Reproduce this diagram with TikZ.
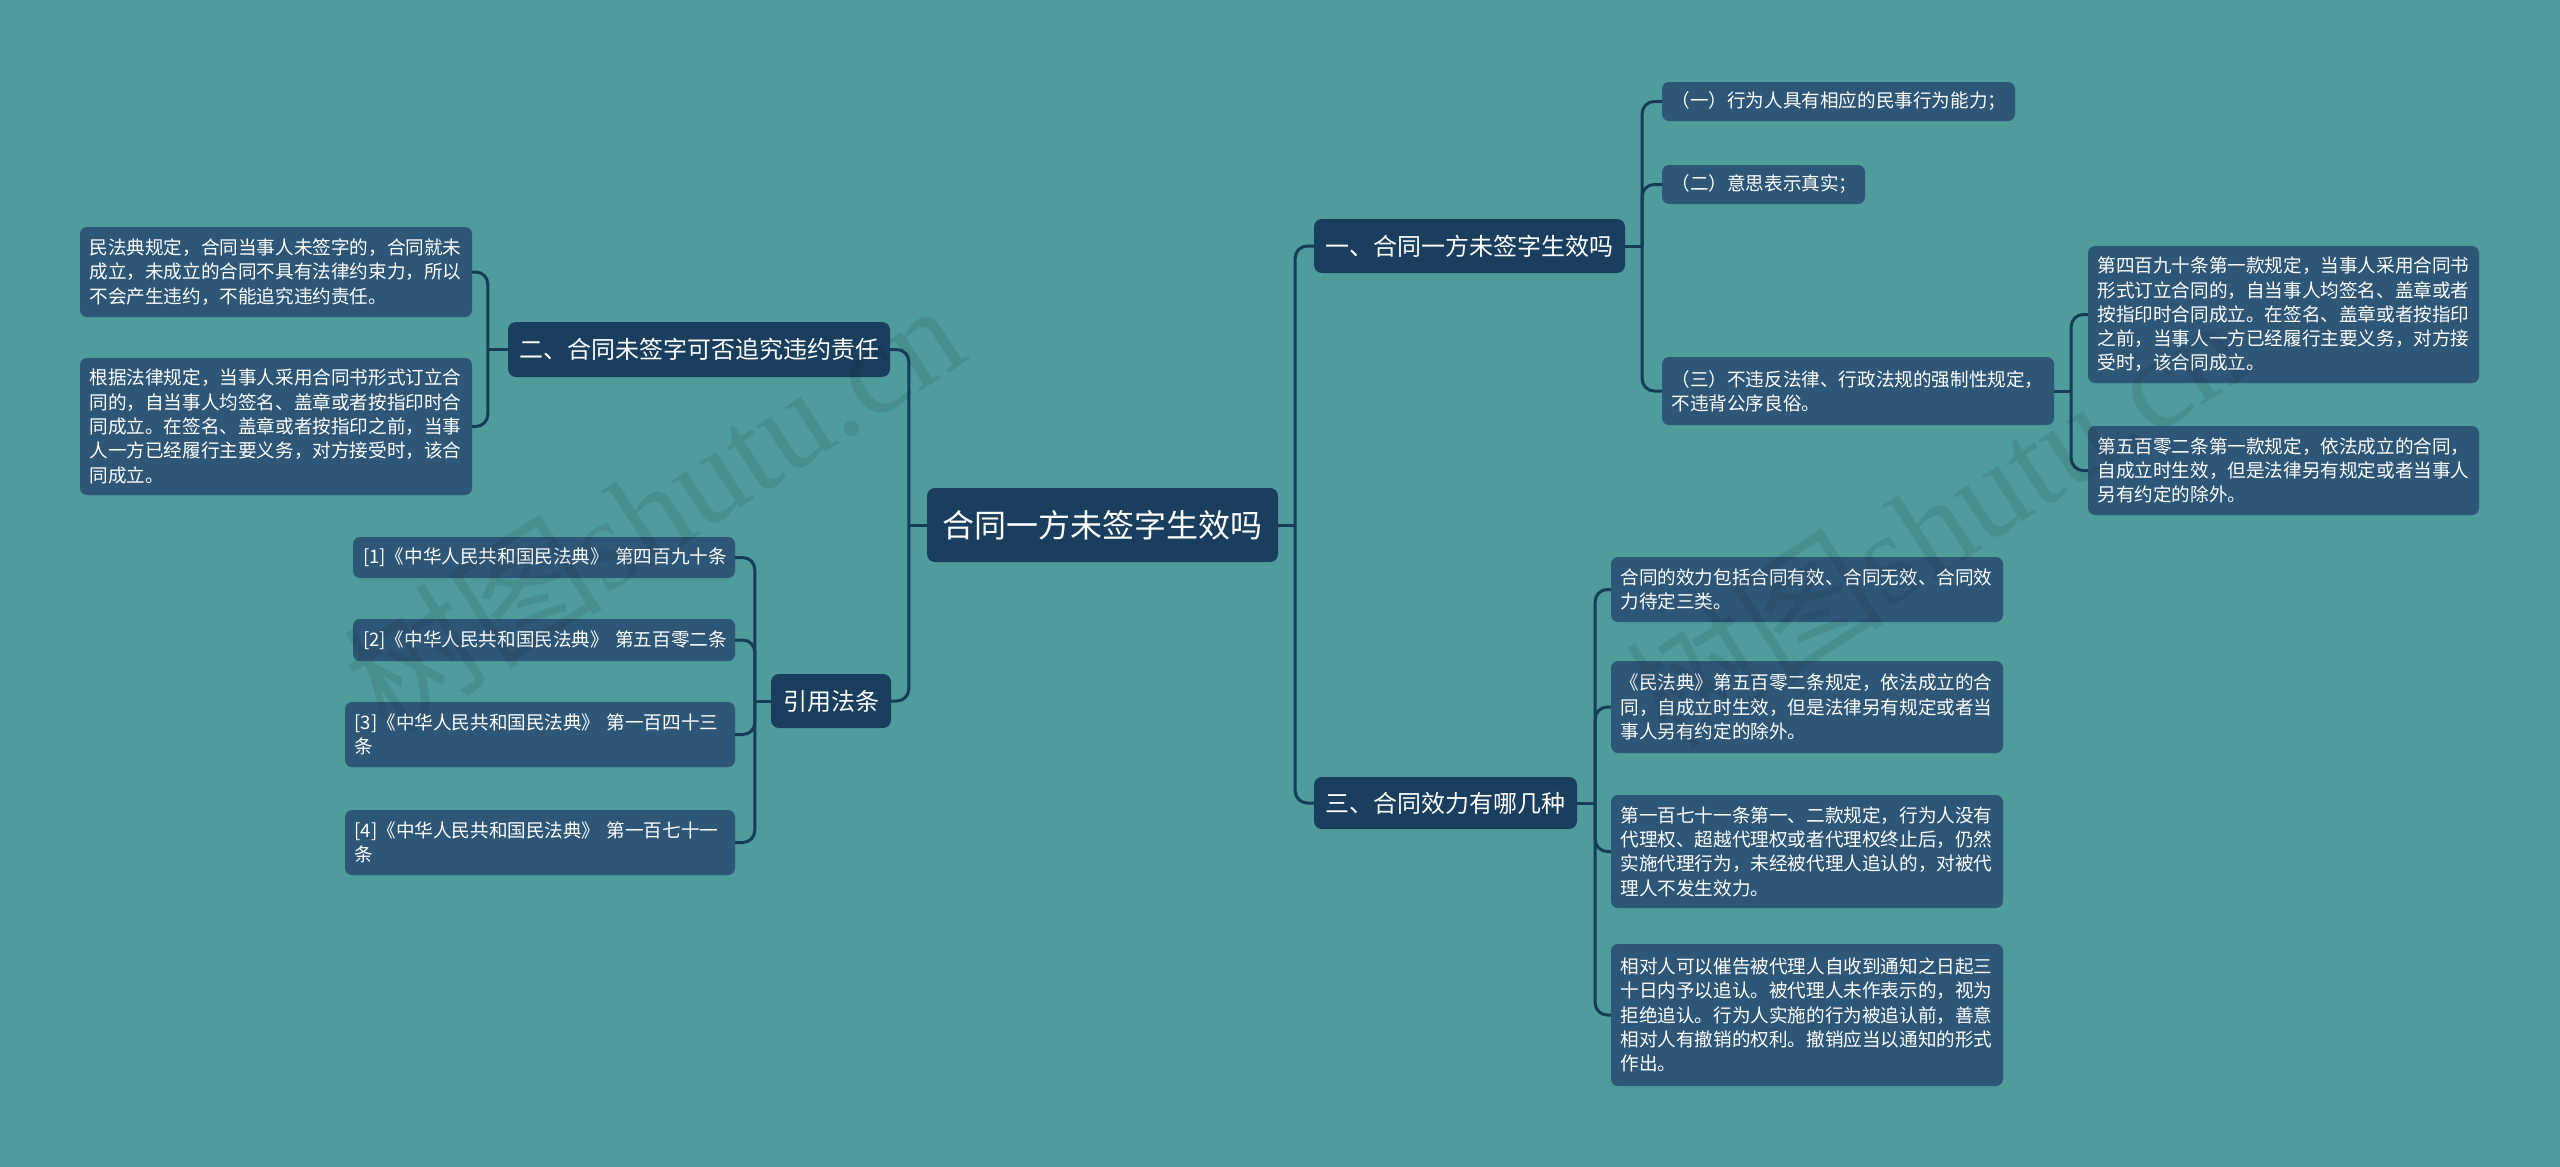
\documentclass[tikz,border=0pt]{standalone}
\usepackage{fontspec}
\setmainfont{Noto Sans CJK SC}
\newfontfamily\wmlatin{Liberation Serif}
\newfontfamily\wmcjk{Noto Sans CJK SC}
\definecolor{bgc}{HTML}{4E9C9C}
\definecolor{rootc}{HTML}{1A3F5E}
\definecolor{leafc}{HTML}{2E5777}
\definecolor{linec}{HTML}{183C58}
\tikzset{
  rootbox/.style={rounded corners=8pt, fill=rootc, text=white, inner sep=0pt, align=center, font=\fontsize{32}{38}\selectfont},
  mainbox/.style={rounded corners=8pt, fill=rootc, text=white, inner sep=0pt, align=center, font=\fontsize{24}{29}\selectfont},
  leafbox/.style={rounded corners=7pt, fill=leafc, text=white, inner xsep=9.5pt, inner ysep=0pt, align=left, font=\fontsize{18.6}{24.3}\selectfont},
  conn/.style={draw=linec, line width=3pt, rounded corners=12pt},
  wm/.style={text=black, text opacity=0.08, inner sep=0pt, font=\fontsize{130}{130}\selectfont},
}
\begin{document}
\begin{tikzpicture}[x=1pt,y=-1pt]
\useasboundingbox (0,0) rectangle (2560,1167);
\fill[bgc] (0,0) rectangle (2560,1167);

% root
\node[rootbox, minimum width=351pt, minimum height=74pt] (root) at (1102.5,525) {合同一方未签字生效吗};

% left main branches
\node[mainbox, minimum width=382pt, minimum height=55pt] (n2) at (699,349.5) {二、合同未签字可否追究违约责任};
\node[mainbox, minimum width=120pt, minimum height=54pt] (ny) at (831,701) {引用法条};

\node[leafbox, text width=373pt, minimum height=90pt] (ll1) at (276,272) {民法典规定，合同当事人未签字的，合同就未\\成立，未成立的合同不具有法律约束力，所以\\不会产生违约，不能追究违约责任。};
\node[leafbox, text width=373pt, minimum height=137pt] (ll2) at (276,426.5) {根据法律规定，当事人采用合同书形式订立合\\同的，自当事人均签名、盖章或者按指印时合\\同成立。在签名、盖章或者按指印之前，当事\\人一方已经履行主要义务，对方接受时，该合\\同成立。};

\node[leafbox, text width=362pt, inner xsep=10pt, minimum height=41pt] (c1) at (544,557.5) {\mbox{[1]《中华人民共和国民法典》~第四百九十条}};
\node[leafbox, text width=362pt, inner xsep=10pt, minimum height=42pt] (c2) at (544,640) {\mbox{[2]《中华人民共和国民法典》~第五百零二条}};
\node[leafbox, text width=371pt, minimum height=65pt] (c3) at (540,734.5) {[3]《中华人民共和国民法典》~第一百四十三\\条};
\node[leafbox, text width=371pt, minimum height=65pt] (c4) at (540,842.5) {[4]《中华人民共和国民法典》~第一百七十一\\条};

% right main branches
\node[mainbox, minimum width=311pt, minimum height=54pt] (n1) at (1469.5,246) {一、合同一方未签字生效吗};
\node[mainbox, minimum width=263pt, minimum height=52pt] (n3) at (1445.5,803) {三、合同效力有哪几种};

\node[leafbox, text width=334pt, minimum height=39pt] (r1) at (1838.5,101.5) {（一）行为人具有相应的民事行为能力；};
\node[leafbox, text width=184pt, minimum height=39pt] (r2) at (1763.5,184.5) {（二）意思表示真实；};
\node[leafbox, text width=373pt, minimum height=68pt] (r3) at (1858,391) {（三）不违反法律、行政法规的强制性规定，\\不违背公序良俗。};

\node[leafbox, text width=372pt, minimum height=137pt] (r3a) at (2283.5,314.5) {第四百九十条第一款规定，当事人采用合同书\\形式订立合同的，自当事人均签名、盖章或者\\按指印时合同成立。在签名、盖章或者按指印\\之前，当事人一方已经履行主要义务，对方接\\受时，该合同成立。};
\node[leafbox, text width=372pt, minimum height=89pt] (r3b) at (2283.5,470.5) {第五百零二条第一款规定，依法成立的合同，\\自成立时生效，但是法律另有规定或者当事人\\另有约定的除外。};

\node[leafbox, text width=373pt, minimum height=65pt] (s1) at (1807,589.5) {合同的效力包括合同有效、合同无效、合同效\\力待定三类。};
\node[leafbox, text width=373pt, minimum height=92pt] (s2) at (1807,707) {《民法典》第五百零二条规定，依法成立的合\\同，自成立时生效，但是法律另有规定或者当\\事人另有约定的除外。};
\node[leafbox, text width=373pt, minimum height=113pt] (s3) at (1807,851.5) {第一百七十一条第一、二款规定，行为人没有\\代理权、超越代理权或者代理权终止后，仍然\\实施代理行为，未经被代理人追认的，对被代\\理人不发生效力。};
\node[leafbox, text width=373pt, minimum height=142pt] (s4) at (1807,1015) {相对人可以催告被代理人自收到通知之日起三\\十日内予以追认。被代理人未作表示的，视为\\拒绝追认。行为人实施的行为被追认前，善意\\相对人有撤销的权利。撤销应当以通知的形式\\作出。};

% junctions
\coordinate (jr) at ([xshift=17pt]root.east);
\coordinate (jl) at ([xshift=-18pt]root.west);
\coordinate (j2) at ([xshift=-20pt]n2.west);
\coordinate (jy) at ([xshift=-16pt]ny.west);
\coordinate (j1) at ([xshift=17pt]n1.east);
\coordinate (jr3) at ([xshift=17pt]r3.east);
\coordinate (j3) at ([xshift=18pt]n3.east);

% connectors
\draw[conn] (root.east) -- (jr);
\draw[conn] (jr) |- (n1.west);
\draw[conn] (jr) |- (n3.west);
\draw[conn] (root.west) -- (jl);
\draw[conn] (jl) |- (n2.east);
\draw[conn] (jl) |- (ny.east);

\draw[conn] (n2.west) -- (j2);
\draw[conn] (j2) |- (ll1.east);
\draw[conn] (j2) |- (ll2.east);

\draw[conn] (ny.west) -- (jy);
\draw[conn] (jy) |- (c1.east);
\draw[conn] (jy) |- (c2.east);
\draw[conn] (jy) |- (c3.east);
\draw[conn] (jy) |- (c4.east);

\draw[conn] (n1.east) -- (j1);
\draw[conn] (j1) |- (r1.west);
\draw[conn] (j1) |- (r2.west);
\draw[conn] (j1) |- (r3.west);

\draw[conn] (r3.east) -- (jr3);
\draw[conn] (jr3) |- (r3a.west);
\draw[conn] (jr3) |- (r3b.west);

\draw[conn] (n3.east) -- (j3);
\draw[conn] (j3) |- (s1.west);
\draw[conn] (j3) |- (s2.west);
\draw[conn] (j3) |- (s3.west);
\draw[conn] (j3) |- (s4.west);

% watermarks
\node[wm, rotate=33] (wm1) at (653,506) {{\wmcjk 树图}{\wmlatin shutu.cn}};
\node[wm, rotate=33] (wm2) at (1935,520) {{\wmcjk 树图}{\wmlatin shutu.cn}};
\end{tikzpicture}
\end{document}
